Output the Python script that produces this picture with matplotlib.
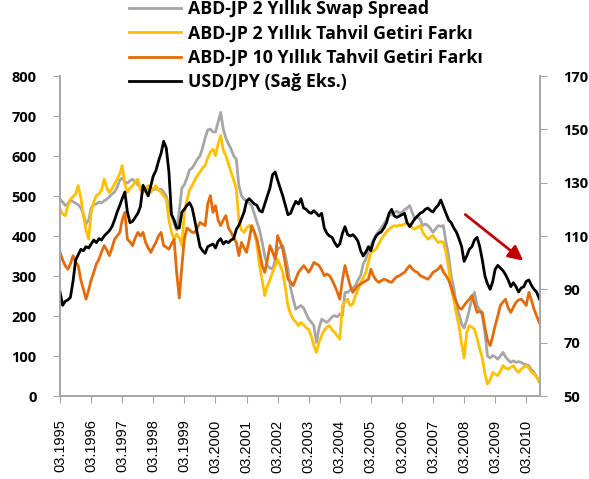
import pandas as pd
import matplotlib
matplotlib.use('Agg')
import matplotlib.pyplot as plt
from matplotlib.font_manager import FontProperties

# aylık veriler, 03.1995 - 08.2010 (baz puan ve USD/JPY)
swap_2y = [
    492, 485, 476, 480, 490, 486, 482, 478, 470, 455,
    430, 440, 470, 478, 480, 485, 483, 488, 492, 498, 505, 510,
    522, 540, 545, 536, 532, 538, 542, 535, 528, 522, 518, 515,
    517, 520, 516, 518, 515, 517, 510, 500, 470, 455, 430, 415,
    465, 520, 528, 545, 565, 570, 580, 592, 600, 620, 645, 665,
    667, 660, 660, 685, 709, 667, 645, 630, 617, 600, 592, 526,
    501, 492, 488, 482, 476, 455, 435, 415, 384, 350, 326, 320,
    317, 340, 367, 372, 376, 350, 317, 270, 242, 217, 222, 226,
    220, 205, 192, 185, 176, 134, 170, 192, 188, 184, 190, 198,
    201, 198, 205, 201, 259, 259, 265, 270, 276, 290, 301, 330,
    342, 362, 376, 390, 401, 412, 420, 430, 440, 451, 455, 459,
    462, 457, 459, 466, 470, 476, 458, 442, 448, 442, 426, 430,
    426, 418, 409, 418, 426, 424, 426, 385, 350, 300, 270, 226,
    205, 180, 170, 190, 215, 245, 259, 226, 215, 201, 159, 100,
    95, 101, 98, 92, 100, 109, 98, 90, 84, 88, 84, 86,
    84, 80, 78, 76, 66, 59, 48, 36,
]

tahvil_2y = [
    468, 455, 451, 475, 492, 498, 505, 526, 495, 450,
    415, 392, 459, 485, 501, 505, 515, 542, 520, 509, 518, 530,
    542, 555, 576, 530, 509, 520, 526, 535, 542, 515, 509, 520,
    526, 509, 518, 526, 515, 509, 500, 492, 440, 410, 392, 405,
    395, 376, 460, 490, 515, 526, 540, 551, 560, 570, 576, 595,
    610, 617, 601, 630, 651, 615, 601, 580, 559, 540, 517, 440,
    415, 409, 420, 426, 418, 409, 380, 326, 290, 251, 276, 290,
    309, 325, 342, 325, 309, 270, 226, 205, 192, 185, 176, 184,
    178, 170, 167, 150, 126, 109, 135, 151, 165, 172, 176, 165,
    159, 150, 142, 226, 235, 242, 226, 230, 251, 265, 284, 295,
    309, 335, 359, 362, 367, 380, 392, 401, 410, 417, 422, 426,
    424, 428, 426, 430, 434, 428, 420, 417, 422, 426, 409, 400,
    392, 398, 401, 392, 384, 386, 384, 359, 320, 270, 240, 205,
    175, 130, 95, 159, 176, 172, 167, 145, 117, 95, 55, 30,
    40, 59, 55, 51, 62, 76, 70, 67, 72, 76, 65, 59,
    67, 72, 76, 70, 59, 55, 48, 38,
]

tahvil_10y = [
    359, 340, 326, 317, 330, 351, 335, 326, 290, 267,
    242, 265, 290, 309, 330, 342, 360, 376, 365, 351, 370, 392,
    400, 409, 440, 459, 392, 385, 376, 395, 409, 400, 409, 384,
    370, 359, 372, 384, 400, 409, 376, 372, 367, 380, 392, 309,
    245, 326, 392, 420, 415, 409, 409, 420, 434, 430, 426, 480,
    501, 459, 476, 440, 426, 440, 451, 420, 409, 395, 384, 351,
    384, 370, 359, 390, 426, 410, 392, 360, 326, 309, 340, 376,
    360, 342, 401, 385, 367, 330, 292, 285, 276, 292, 309, 317,
    326, 318, 309, 320, 334, 330, 326, 315, 301, 305, 301, 290,
    276, 260, 242, 290, 326, 300, 276, 259, 268, 276, 280, 284,
    288, 292, 317, 300, 290, 284, 288, 292, 290, 286, 284, 292,
    298, 301, 305, 309, 318, 326, 318, 312, 309, 301, 298, 295,
    292, 300, 309, 313, 317, 326, 310, 301, 290, 272, 251, 235,
    220, 217, 226, 235, 242, 251, 230, 209, 212, 209, 170, 140,
    126, 150, 176, 200, 226, 235, 242, 220, 209, 222, 234, 240,
    242, 235, 226, 259, 240, 217, 200, 184,
]

usdjpy = [
    89, 84, 85.5, 86, 87, 93, 101, 103, 105, 104.5,
    106, 105.5, 107, 108.5, 107.5, 109, 108.5, 110, 111, 112, 113.5, 116,
    119, 121.5, 124, 126.5, 119, 115, 115.5, 117, 118.5, 121, 129, 127,
    125, 129, 132.5, 134.5, 138, 141, 145.5, 143, 134, 118, 116, 113,
    113, 119, 120, 121.5, 122.5, 120.5, 116, 111, 106, 104.5, 103.5, 106,
    106.5, 107, 105.5, 108, 109, 107, 108, 107.5, 108.5, 109, 112.5, 114,
    116.5, 119, 123, 124, 123, 122, 121.5, 119.5, 119, 122, 125, 128,
    133, 134, 131, 128, 125, 121.5, 118, 118.5, 121, 123, 122, 124,
    120.5, 120, 119, 118.5, 119.5, 118.5, 117.5, 118.5, 113, 111, 110, 109.5,
    107.5, 106, 107, 111, 113.5, 110.5, 110, 110.5, 109.5, 108, 104.5, 102.5,
    104, 106, 104.5, 108, 110, 111, 111.5, 113, 115, 118.5, 120, 117.5,
    117, 117.5, 118, 118.5, 115, 113.5, 115, 116.5, 117.5, 118.5, 119, 120,
    120.5, 119.5, 119, 120.5, 121.5, 123.5, 121, 118.5, 116, 115, 113, 111.5,
    109, 106, 100.5, 102.5, 105, 106, 108.5, 109.5, 106, 101, 95, 92,
    90, 93, 97.5, 99, 98, 97, 95.5, 93.5, 91, 92.5, 91, 89,
    90.5, 91, 93, 93.5, 91.5, 90, 89, 86.5,
]

labels = [
    'ABD-JP 2 Yıllık Swap Spread',
    'ABD-JP 2 Yıllık Tahvil Getiri Farkı',
    'ABD-JP 10 Yıllık Tahvil Getiri Farkı',
    'USD/JPY (Sağ Eks.)',
]

dates = pd.date_range('1995-03-01', periods=len(usdjpy), freq='MS')
tick_dates = pd.date_range('1995-03-01', '2010-03-01', freq='12MS')
tick_labels = [d.strftime('%m.%Y') for d in tick_dates]

axis_gray = '#a6a6a6'
bold_font = FontProperties(family='Open Sans', weight='bold', size=10.5)
legend_font = FontProperties(family='Open Sans', weight='bold', size=12.8)

fig = plt.figure(figsize=(5.89, 4.79), dpi=100)
ax = fig.add_axes([60 / 589, 1 - 396 / 479, 480 / 589, 320 / 479])
ax2 = ax.twinx()

l1, = ax.plot(dates, swap_2y, color='#a6a6a6', lw=2)
l2, = ax.plot(dates, tahvil_2y, color='#ffc000', lw=2)
l3, = ax.plot(dates, tahvil_10y, color='#e36c0a', lw=2)
l4, = ax2.plot(dates, usdjpy, color='black', lw=2)

ax.set_ylim(0, 800)
ax.set_yticks(range(0, 801, 100))
ax2.set_ylim(50, 170)
ax2.set_yticks(range(50, 171, 20))
ax.set_xlim(dates[0], pd.Timestamp('2010-08-10'))
ax.set_xticks(tick_dates)
ax.set_xticklabels(tick_labels, rotation=90, fontfamily='Liberation Sans',
                   fontsize=10.5)

for a in (ax, ax2):
    a.spines['top'].set_visible(False)
    for s in ('left', 'right', 'bottom'):
        a.spines[s].set_color(axis_gray)
        a.spines[s].set_linewidth(1.2)

ax.tick_params(axis='x', direction='out', length=5, color=axis_gray, pad=12)
ax.tick_params(axis='y', direction='out', length=5, color=axis_gray, pad=12)
ax2.tick_params(axis='y', direction='out', length=5, color=axis_gray, pad=12)

for lab in ax.get_yticklabels() + ax2.get_yticklabels():
    lab.set_fontproperties(bold_font)

# aşağı yönlü trend oku
ax.annotate('', xy=(pd.Timestamp('2010-02-20'), 334),
            xytext=(pd.Timestamp('2008-02-18'), 458),
            arrowprops=dict(arrowstyle='-|>', color='#c00000', lw=2,
                            mutation_scale=22))

fig.legend([l1, l2, l3, l4], labels, loc='upper left',
           bbox_to_anchor=(129 / 589, 1.0), frameon=False,
           prop=legend_font, handlelength=2.95, handletextpad=0.37,
           labelspacing=0.36, borderpad=0, borderaxespad=0)

fig.savefig('out.png', dpi=100)
